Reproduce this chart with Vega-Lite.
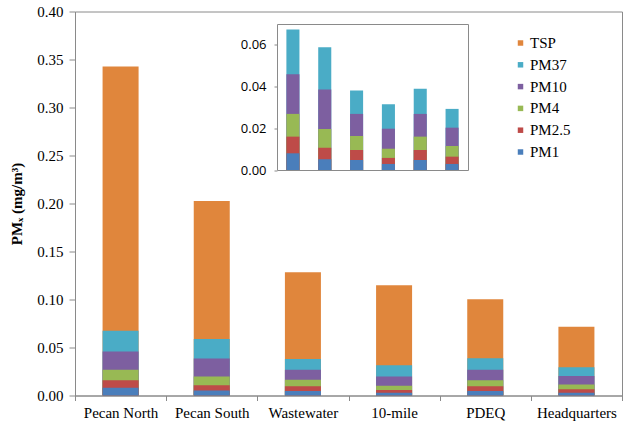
{
  "$schema": "https://vega.github.io/schema/vega-lite/v6.json",
  "width": 547,
  "height": 384,
  "autosize": "none",
  "padding": {"left": 75, "top": 11.5, "right": 7, "bottom": 31.5},
  "background": "white",
  "config": {
    "view": {"stroke": "#8a8a8a", "strokeWidth": 1},
    "font": "Liberation Serif, Times New Roman, serif",
    "axis": {"grid": false, "domainColor": "#8a8a8a", "tickColor": "#8a8a8a", "labelColor": "#000000", "titleColor": "#000000", "labelFont": "Liberation Serif, Times New Roman, serif", "titleFont": "Liberation Serif, Times New Roman, serif"},
    "legend": {"labelFont": "Liberation Serif, Times New Roman, serif"}
  },
  "data": {
    "values": [
      {"site": "Pecan North", "size": "PM1", "value": 0.008},
      {"site": "Pecan North", "size": "PM2.5", "value": 0.016},
      {"site": "Pecan North", "size": "PM4", "value": 0.0269},
      {"site": "Pecan North", "size": "PM10", "value": 0.0459},
      {"site": "Pecan North", "size": "PM37", "value": 0.0674},
      {"site": "Pecan North", "size": "TSP", "value": 0.3427},
      {"site": "Pecan South", "size": "PM1", "value": 0.0051},
      {"site": "Pecan South", "size": "PM2.5", "value": 0.0107},
      {"site": "Pecan South", "size": "PM4", "value": 0.0197},
      {"site": "Pecan South", "size": "PM10", "value": 0.0386},
      {"site": "Pecan South", "size": "PM37", "value": 0.0589},
      {"site": "Pecan South", "size": "TSP", "value": 0.2027},
      {"site": "Wastewater", "size": "PM1", "value": 0.0048},
      {"site": "Wastewater", "size": "PM2.5", "value": 0.0096},
      {"site": "Wastewater", "size": "PM4", "value": 0.0163},
      {"site": "Wastewater", "size": "PM10", "value": 0.0269},
      {"site": "Wastewater", "size": "PM37", "value": 0.0381},
      {"site": "Wastewater", "size": "TSP", "value": 0.1284},
      {"site": "10-mile", "size": "PM1", "value": 0.0029},
      {"site": "10-mile", "size": "PM2.5", "value": 0.0058},
      {"site": "10-mile", "size": "PM4", "value": 0.0102},
      {"site": "10-mile", "size": "PM10", "value": 0.0198},
      {"site": "10-mile", "size": "PM37", "value": 0.0315},
      {"site": "10-mile", "size": "TSP", "value": 0.1149},
      {"site": "PDEQ", "size": "PM1", "value": 0.0048},
      {"site": "PDEQ", "size": "PM2.5", "value": 0.0096},
      {"site": "PDEQ", "size": "PM4", "value": 0.016},
      {"site": "PDEQ", "size": "PM10", "value": 0.0269},
      {"site": "PDEQ", "size": "PM37", "value": 0.0389},
      {"site": "PDEQ", "size": "TSP", "value": 0.1003},
      {"site": "Headquarters", "size": "PM1", "value": 0.0029},
      {"site": "Headquarters", "size": "PM2.5", "value": 0.0064},
      {"site": "Headquarters", "size": "PM4", "value": 0.0115},
      {"site": "Headquarters", "size": "PM10", "value": 0.0203},
      {"site": "Headquarters", "size": "PM37", "value": 0.0293},
      {"site": "Headquarters", "size": "TSP", "value": 0.0715}
    ]
  },
  "layer": [
    {
      "mark": {"type": "bar", "width": {"band": 0.395}},
      "encoding": {
        "x": {
          "field": "site", "type": "nominal", "sort": null,
          "scale": {"paddingInner": 0, "paddingOuter": 0},
          "axis": {"orient": "bottom", "title": null, "labelAngle": 0, "labelFontSize": 15, "tickBand": "extent", "tickSize": 5, "labelPadding": 5, "domain": true}
        },
        "y": {
          "field": "value", "type": "quantitative", "stack": null,
          "scale": {"domain": [0, 0.4], "nice": false},
          "axis": {"orient": "left", "title": "PMₓ (mg/m³)", "titleFontSize": 15, "titleFontWeight": "bold", "titlePadding": 12, "values": [0, 0.05, 0.1, 0.15, 0.2, 0.25, 0.3, 0.35, 0.4], "format": ".2f", "labelFontSize": 15, "tickSize": 6, "labelPadding": 6}
        },
        "color": {
          "field": "size", "type": "nominal",
          "scale": {"domain": ["TSP", "PM37", "PM10", "PM4", "PM2.5", "PM1"], "range": ["#E0863C", "#4AACC6", "#7D5FA0", "#98B954", "#BE4B48", "#4A7EBB"]},
          "legend": {"orient": "none", "legendX": 438, "legendY": 24, "title": null, "symbolType": "square", "symbolSize": 30, "symbolStrokeWidth": 0, "labelFontSize": 15, "labelColor": "#000000", "rowPadding": 5.8, "labelOffset": 2, "padding": 0}
        },
        "order": {"field": "value", "sort": "descending"}
      }
    },
    {
      "transform": [{"filter": "datum.size !== 'TSP'"}],
      "layer": [
        {
          "mark": {"type": "bar", "width": {"band": 0.41}},
          "encoding": {
            "x": {
              "field": "site", "type": "nominal", "sort": null,
              "scale": {"paddingInner": 0, "paddingOuter": 0, "range": [202, 393]},
              "axis": {"orient": "bottom", "offset": -225.5, "title": null, "labels": false, "ticks": false, "domain": true}
            },
            "y": {
              "field": "value", "type": "quantitative", "stack": null,
              "scale": {"domain": [0, 0.07], "nice": false, "range": [158.5, 12.5]},
              "axis": {"orient": "left", "offset": -202, "title": null, "values": [0, 0.02, 0.04, 0.06], "format": ".2f", "labelFont": "Open Sans", "labelFontSize": 13, "tickSize": 3, "labelPadding": 8}
            },
            "color": {"field": "size", "type": "nominal"},
            "order": {"field": "value", "sort": "descending"}
          }
        },
        {
          "mark": {"type": "bar", "opacity": 0, "width": {"band": 0.41}},
          "encoding": {
            "x": {
              "field": "site", "type": "nominal", "sort": null,
              "scale": {"paddingInner": 0, "paddingOuter": 0, "range": [202, 393]},
              "axis": {"orient": "top", "offset": -12.5, "title": null, "labels": false, "ticks": false, "domain": true}
            },
            "y": {
              "field": "value", "type": "quantitative", "stack": null,
              "scale": {"domain": [0, 0.07], "nice": false, "range": [158.5, 12.5]},
              "axis": {"orient": "right", "offset": -154, "title": null, "labels": false, "ticks": false, "domain": true}
            }
          }
        }
      ],
      "resolve": {"axis": {"x": "independent", "y": "independent"}}
    }
  ],
  "resolve": {"scale": {"x": "independent", "y": "independent"}}
}
